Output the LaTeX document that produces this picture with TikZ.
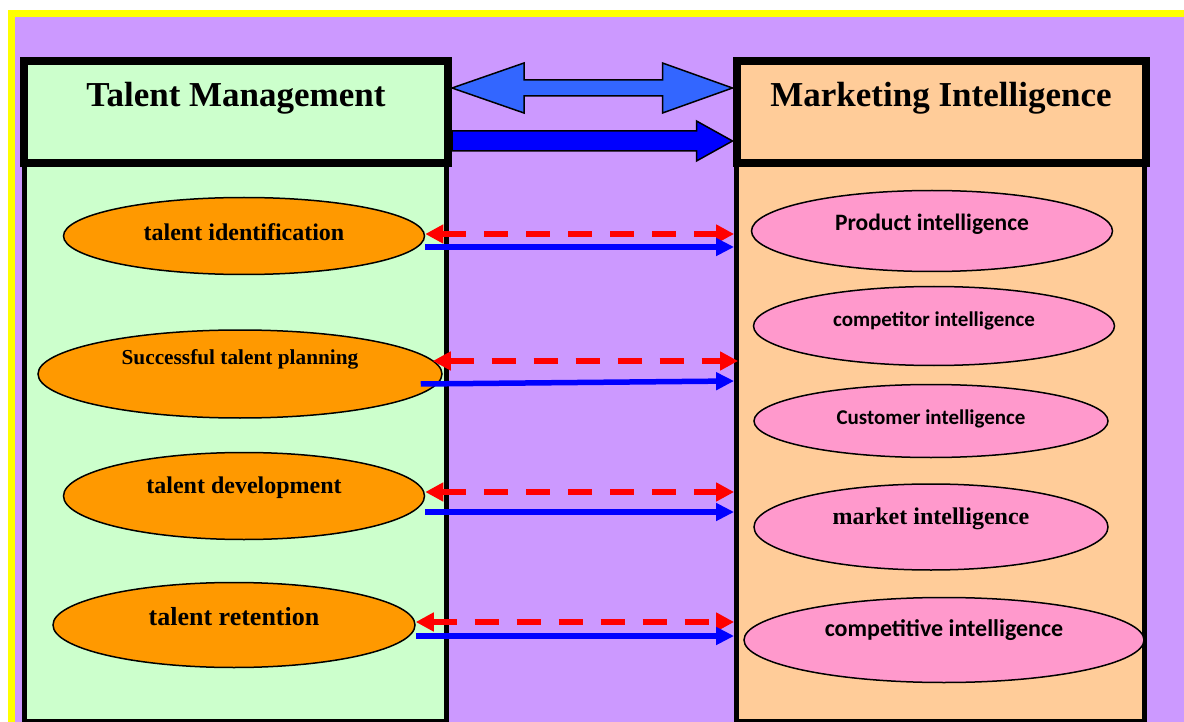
\documentclass[tikz,border=0pt]{standalone}
\usepackage{fontspec}
\setmainfont{Liberation Serif}
\newfontfamily\carlito{Carlito}
\usetikzlibrary{arrows.meta,calc,shapes.geometric}
\definecolor{frame}{HTML}{FFFF00}
\definecolor{lilac}{HTML}{CC99FF}
\definecolor{mint}{HTML}{CCFFCC}
\definecolor{peach}{HTML}{FFCC99}
\definecolor{amber}{HTML}{FF9900}
\definecolor{rose}{HTML}{FF99CC}
\definecolor{sky}{HTML}{3366FF}
\definecolor{deepblue}{HTML}{0000FF}
\definecolor{alarm}{HTML}{FF0000}
\tikzset{
  hdbox/.style={draw=black,line width=8pt,inner sep=0pt},
  bdbox/.style={draw=black,line width=5pt,inner sep=0pt},
  hdtxt/.style={font=\fontsize{35}{40}\selectfont\bfseries,text=black},
  sertxt/.style={font=\fontsize{#1}{#1}\selectfont\bfseries,text=black},
  caltxt/.style={font=\carlito\fontsize{#1}{#1}\selectfont\bfseries,text=black},
  ell/.style={ellipse,draw=black,line width=1.5pt,inner sep=0pt},
  tmell/.style={ell,fill=amber},
  miell/.style={ell,fill=rose},
  dblarr/.style={draw=black,line width=1.5pt,fill=sky,line join=miter},
  solarr/.style={draw=black,line width=1.5pt,fill=deepblue,line join=miter},
  redarr/.style={{Triangle[length=18pt,width=18pt]}-{Triangle[length=18pt,width=18pt]},draw=alarm,line width=6pt,dash pattern=on 24pt off 18pt},
  bluearr/.style={-{Triangle[length=18pt,width=17pt]},draw=deepblue,line width=5.5pt},
}
\begin{document}
\begin{tikzpicture}[x=1pt,y=-1pt]
  \clip (0,0) rectangle (1184,722);
  \fill[white] (0,0) rectangle (1184,722);
  \draw[frame,line width=7pt,fill=lilac] (11.5,13.5) rectangle (1210,750);

  % two columns
  \node[bdbox,fill=mint,minimum width=422pt,minimum height=556pt] (tmbody) at (235.5,443) {};
  \node[bdbox,fill=peach,minimum width=408pt,minimum height=556pt] (mibody) at (940.6,443) {};
  \node[hdbox,fill=mint,minimum width=424pt,minimum height=102pt,
        label={[hdtxt,yshift=14pt]center:Talent Management}] (tmhead) at (236,112) {};
  \node[hdbox,fill=peach,minimum width=409pt,minimum height=102pt,
        label={[hdtxt,yshift=14pt]center:Marketing Intelligence}] (mihead) at (941,112) {};

  % big arrows between the headers
  \coordinate (dl) at ([yshift=24pt]tmhead.east);
  \coordinate (dr) at ([yshift=24pt]mihead.west);
  \coordinate (sl) at ([yshift=-29pt]tmhead.east);
  \coordinate (sr) at ([yshift=-29pt]mihead.west);
  \draw[dblarr] (dl) -- ++(72,-25) -- ++(0,17) -- ($(dr)+(-70,-8)$) -- ++(0,-17) -- (dr)
    -- ++(-70,25) -- ++(0,-17) -- ($(dl)+(72,8)$) -- ++(0,17) -- cycle;
  \draw[solarr] ($(sl)+(0,-10)$) -- ($(sr)+(-36,-10)$) -- ++(0,-10) -- (sr)
    -- ++(-36,20) -- ++(0,-10) -- ($(sl)+(0,10)$) -- cycle;

  % talent side
  \node[tmell,minimum width=361pt,minimum height=77pt,
        label={[sertxt=24,yshift=4pt]center:talent identification}] (ident) at (244,236) {};
  \node[tmell,minimum width=404pt,minimum height=88pt,
        label={[sertxt=21.3,yshift=15pt]center:Successful talent planning}] (plan) at (240,374) {};
  \node[tmell,minimum width=361pt,minimum height=87pt,
        label={[sertxt=24,yshift=8pt]center:talent development}] (devel) at (244,496) {};
  \node[tmell,minimum width=362pt,minimum height=85pt,
        label={[sertxt=26,yshift=8pt]center:talent retention}] (reten) at (234,625) {};

  % marketing side
  \node[miell,minimum width=361pt,minimum height=81pt,
        label={[caltxt=23.5,yshift=7pt]center:Product intelligence}] (prod) at (932,231) {};
  \node[miell,minimum width=361pt,minimum height=79pt,
        label={[caltxt=21,yshift=5pt]center:competitor intelligence}] (compr) at (934,326) {};
  \node[miell,minimum width=354pt,minimum height=73pt,
        label={[caltxt=21,yshift=2pt]center:Customer intelligence}] (cust) at (931,421) {};
  \node[miell,minimum width=354pt,minimum height=86pt,
        label={[sertxt=24,yshift=8pt]center:market intelligence}] (market) at (931,527) {};
  \node[miell,minimum width=400pt,minimum height=85pt,
        label={[caltxt=24,yshift=10pt]center:competitive intelligence}] (compv) at (944,640) {};

  % links
  \draw[redarr] ([yshift=2pt]ident.east) -- ([yshift=2pt]ident.east -| mibody.west);
  \draw[bluearr] ([yshift=-11pt]ident.east) -- ([yshift=-11pt]ident.east -| mibody.west);
  \draw[redarr] ([xshift=-10pt,yshift=13pt]plan.east) -- ([xshift=4pt,yshift=13pt]plan.east -| mibody.west);
  \draw[bluearr] ([xshift=-22pt,yshift=-10pt]plan.east) -- ([yshift=-7pt]plan.east -| mibody.west);
  \draw[redarr] ([yshift=4pt]devel.east) -- ([yshift=4pt]devel.east -| mibody.west);
  \draw[bluearr] ([yshift=-16pt]devel.east) -- ([yshift=-16pt]devel.east -| mibody.west);
  \draw[redarr] ([yshift=3pt]reten.east) -- ([yshift=3pt]reten.east -| mibody.west);
  \draw[bluearr] ([yshift=-11pt]reten.east) -- ([yshift=-11pt]reten.east -| mibody.west);
\end{tikzpicture}
\end{document}
